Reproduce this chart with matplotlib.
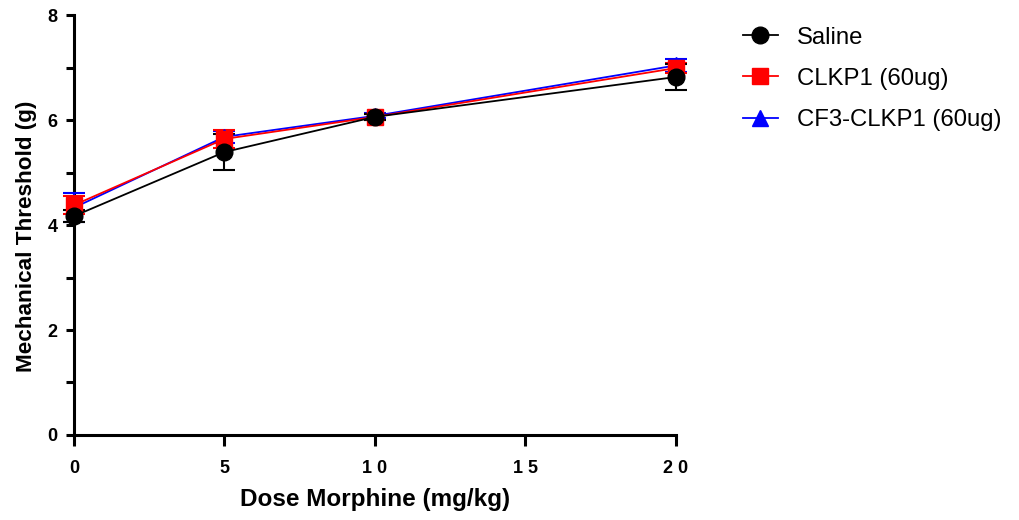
import matplotlib
matplotlib.use("Agg")
import matplotlib.pyplot as plt
from matplotlib.lines import Line2D
from matplotlib.ticker import MultipleLocator

plt.rcParams["font.family"] = ["Liberation Sans", "DejaVu Sans"]

dose = [0, 5, 10, 20]
xtick_values = [0, 5, 10, 15, 20]
xtick_labels = ["0", "5", "1 0", "1 5", "2 0"]
ytick_values = [0, 2, 4, 6, 8]

saline_mean = [4.17, 5.39, 6.06, 6.82]
saline_sem = [0.12, 0.35, 0.06, 0.25]
clkp1_mean = [4.38, 5.64, 6.06, 6.99]
clkp1_sem = [0.17, 0.18, 0.05, 0.10]
cf3_mean = [4.33, 5.68, 6.08, 7.04]
cf3_sem = [0.28, 0.12, 0.05, 0.12]

series = [
    ("CF3-CLKP1 (60ug)", cf3_mean, cf3_sem, "#0000ff", "^", 11),
    ("CLKP1 (60ug)", clkp1_mean, clkp1_sem, "#ff0000", "s", 11),
    ("Saline", saline_mean, saline_sem, "#000000", "o", 12),
]

fig = plt.figure(figsize=(10.19, 5.2), dpi=100)
ax = fig.add_axes([0.0726, 0.1635, 0.5905, 0.8075])

handles = {}
for name, mean, sem, color, marker, ms in series:
    ax.errorbar(dose, mean, yerr=sem, color=color, marker=marker, markersize=ms,
                linewidth=1.3, elinewidth=1.5, capsize=8, capthick=1.5,
                clip_on=False, zorder=3)
    handles[name] = Line2D([], [], color=color, marker=marker, markersize=ms, linewidth=1.3)

ax.set_xlim(0, 20)
ax.set_ylim(0, 8)
ax.set_xticks(xtick_values, labels=xtick_labels)
ax.set_yticks(ytick_values)
ax.yaxis.set_minor_locator(MultipleLocator(1))
for side in ["top", "right"]:
    ax.spines[side].set_visible(False)
for side in ["left", "bottom"]:
    ax.spines[side].set_linewidth(2.2)
ax.tick_params(axis="both", which="both", width=2.2, direction="out")
ax.tick_params(axis="x", which="major", length=8, pad=10, labelsize=13)
ax.tick_params(axis="y", which="major", length=6, pad=6, labelsize=13)
ax.tick_params(axis="y", which="minor", length=6)
for lbl in ax.get_xticklabels() + ax.get_yticklabels():
    lbl.set_fontweight("bold")

ax.set_xlabel("Dose Morphine (mg/kg)", fontsize=17.5, fontweight="bold", labelpad=8)
ax.set_ylabel("Mechanical Threshold (g)", fontsize=16.2, fontweight="bold")
ax.yaxis.set_label_coords(-0.062, 0.474)

order = ["Saline", "CLKP1 (60ug)", "CF3-CLKP1 (60ug)"]
fig.legend([handles[n] for n in order], order, loc="upper left",
           bbox_to_anchor=(0.708, 0.99), frameon=False, fontsize=17.2,
           handlelength=1.45, handletextpad=0.8, labelspacing=0.8)

fig.savefig("out.png", dpi=100)
